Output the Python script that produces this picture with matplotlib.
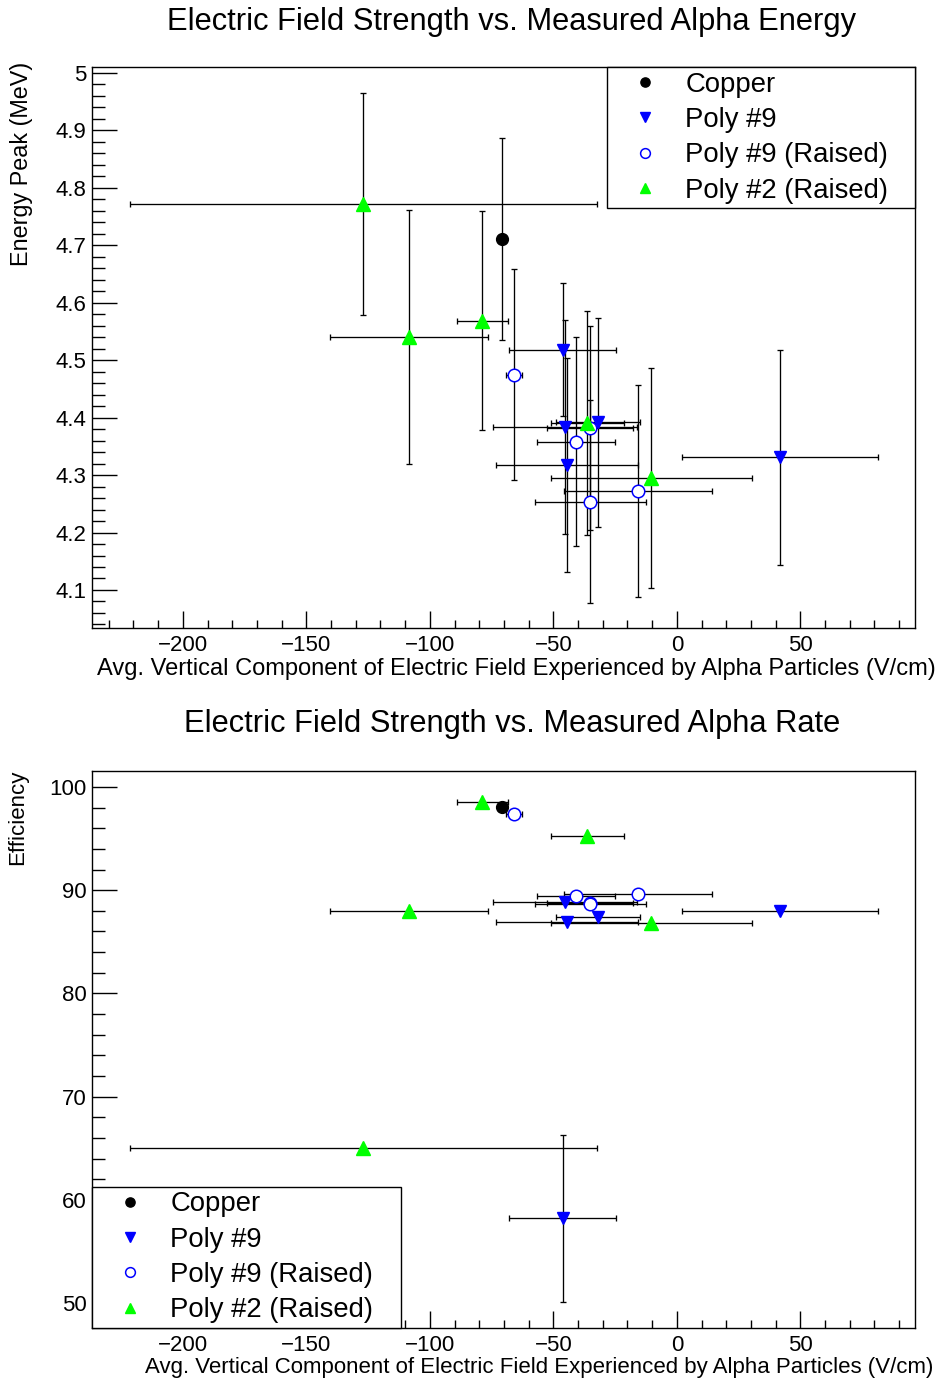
from matplotlib import pyplot as plt
from matplotlib.lines import Line2D
from matplotlib.ticker import MultipleLocator

plt.rcParams['font.family'] = ['Liberation Sans', 'DejaVu Sans']

# avg. vertical field (V/cm) and its spread, shared by both panels
copper_field = [-70.7]
copper_field_err = [0.0]
copper_energy = [4.711]
copper_energy_err = [0.176]
copper_eff = [98.05]
copper_eff_err = [0.0]

poly9_field = [-46.3, -45.3, -44.4, -32.0, 41.8]
poly9_field_err = [21.7, 29.2, 28.7, 17.0, 39.6]
poly9_energy = [4.518, 4.384, 4.318, 4.392, 4.331]
poly9_energy_err = [0.116, 0.186, 0.186, 0.182, 0.187]
poly9_eff = [58.2, 88.85, 86.93, 87.45, 87.95]
poly9_eff_err = [8.07, 0.0, 0.0, 0.0, 0.0]

poly9r_field = [-66.0, -40.9, -35.2, -35.1, -15.7]
poly9r_field_err = [3.3, 15.9, 17.4, 22.4, 29.9]
poly9r_energy = [4.475, 4.358, 4.382, 4.254, 4.272]
poly9r_energy_err = [0.184, 0.182, 0.178, 0.176, 0.184]
poly9r_eff = [97.38, 89.45, 88.72, 88.65, 89.64]
poly9r_eff_err = [0.0, 0.0, 0.0, 0.0, 0.0]

poly2r_field = [-127.0, -108.5, -78.8, -36.3, -10.3]
poly2r_field_err = [94.5, 32.0, 10.4, 14.7, 40.8]
poly2r_energy = [4.772, 4.541, 4.569, 4.391, 4.295]
poly2r_energy_err = [0.193, 0.221, 0.19, 0.195, 0.192]
poly2r_eff = [65.05, 88.0, 98.58, 95.26, 86.86]
poly2r_eff_err = [0.0, 0.0, 0.0, 0.0, 0.0]

labels = ['Copper', 'Poly #9', 'Poly #9 (Raised)', 'Poly #2 (Raised)']

X_TITLE = 'Avg. Vertical Component of Electric Field Experienced by Alpha Particles (V/cm)'
W, H = 939, 1383

styles = [
    dict(marker='o', color='black', mfc='black', ms=8.5),
    dict(marker='v', color='blue', mfc='blue', ms=9),
    dict(marker='o', color='blue', mfc='white', ms=9, mew=1.1),
    dict(marker='^', color='#00ff00', mfc='#00ff00', ms=9.5),
]


def _do_panel(ax, series, xlim, ylim, ymajor, yminor):
    handles = []
    for (x, xe, y, ye), style, label in zip(series, styles, labels):
        ax.errorbar(
            x, y, xerr=xe, yerr=ye, fmt='none', ecolor='black',
            elinewidth=0.95, capsize=2.2, capthick=0.95, zorder=2
        )
        ax.plot(
            x, y, ls='none', marker=style['marker'], ms=style['ms'],
            mfc=style['mfc'], mec=style['color'], mew=style.get('mew', 1.0), zorder=3
        )
        handles.append(Line2D(
            [], [], ls='none', marker=style['marker'], ms=style['ms'] * 0.78,
            mfc=style['mfc'], mec=style['color'], mew=style.get('mew', 1.0)
        ))

    ax.set_xlim(xlim)
    ax.set_ylim(ylim)
    ax.xaxis.set_major_locator(MultipleLocator(50))
    ax.xaxis.set_minor_locator(MultipleLocator(10))
    ax.yaxis.set_major_locator(MultipleLocator(ymajor))
    ax.yaxis.set_minor_locator(MultipleLocator(yminor))
    ax.tick_params(axis='both', which='both', direction='in', top=False, right=False,
                   width=1.0, labelsize=16)
    ax.tick_params(axis='x', which='major', length=12, pad=5)
    ax.tick_params(axis='x', which='minor', length=6)
    ax.tick_params(axis='y', which='major', length=18, pad=4)
    ax.tick_params(axis='y', which='minor', length=9.4)
    for spine in ax.spines.values():
        spine.set_linewidth(1.0)
    return handles


def _legend(ax, handles, loc, box):
    leg = ax.legend(
        handles, labels, loc=loc, bbox_to_anchor=box, mode='expand',
        fontsize=19.8, frameon=True, fancybox=False, framealpha=1.0,
        borderaxespad=0, borderpad=0.17, handlelength=2.4, handletextpad=0.28,
        labelspacing=0.34
    )
    leg.get_frame().set_edgecolor('black')
    leg.get_frame().set_linewidth(1.0)
    leg.set_zorder(5)


fig = plt.figure(figsize=(W / 100, H / 100), dpi=100)
ax1 = fig.add_axes([92 / W, 1 - 628 / H, 823 / W, 561 / H])
ax2 = fig.add_axes([92 / W, 1 - 1328 / H, 823 / W, 557 / H])

energy_series = [
    (copper_field, copper_field_err, copper_energy, copper_energy_err),
    (poly9_field, poly9_field_err, poly9_energy, poly9_energy_err),
    (poly9r_field, poly9r_field_err, poly9r_energy, poly9r_energy_err),
    (poly2r_field, poly2r_field_err, poly2r_energy, poly2r_energy_err),
]
eff_series = [
    (copper_field, copper_field_err, copper_eff, copper_eff_err),
    (poly9_field, poly9_field_err, poly9_eff, poly9_eff_err),
    (poly9r_field, poly9r_field_err, poly9r_eff, poly9r_eff_err),
    (poly2r_field, poly2r_field_err, poly2r_eff, poly2r_eff_err),
]

h1 = _do_panel(ax1, energy_series, (-236.8, 96.4), (4.0338, 5.0104), 0.1, 0.02)
h2 = _do_panel(ax2, eff_series, (-236.8, 96.4), (47.58, 101.55), 10, 2)
ax1.yaxis.set_major_formatter(plt.FuncFormatter(lambda v, p: f'{v:g}'))

_legend(ax1, h1, 'upper right', (1 - 308 / 823, 1 - 140 / 561, 308 / 823, 140 / 561))
_legend(ax2, h2, 'lower left', (0, 0, 309 / 823, 139 / 557))

fig.text(512 / W, 1 - 22 / H, 'Electric Field Strength vs. Measured Alpha Energy',
         ha='center', va='center', fontsize=22.2)
fig.text(512 / W, 1 - 724 / H, 'Electric Field Strength vs. Measured Alpha Rate',
         ha='center', va='center', fontsize=22.2)

fig.text(936 / W, 1 - 658 / H, X_TITLE, ha='right', va='top', fontsize=17)
fig.text(933 / W, 1 - 1357 / H, X_TITLE, ha='right', va='top', fontsize=16)

fig.text(22 / W, 1 - 62 / H, 'Energy Peak (MeV)', rotation=90, ha='center', va='top', fontsize=16.8)
fig.text(18 / W, 1 - 770 / H, 'Efficiency', rotation=90, ha='center', va='top', fontsize=16)

fig.savefig('out.png', dpi=100)
